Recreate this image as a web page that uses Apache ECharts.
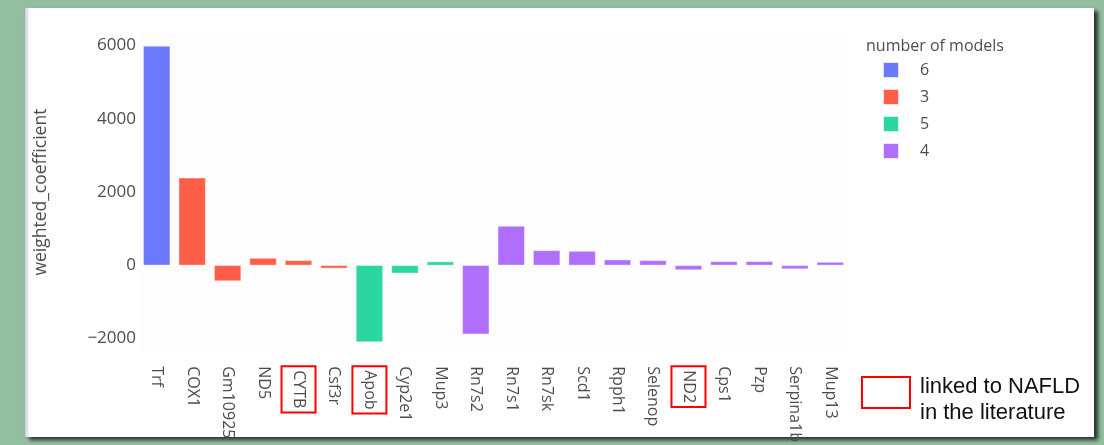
<!DOCTYPE html>
<html>
<head>
<meta charset="utf-8">
<script src="https://cdn.jsdelivr.net/npm/echarts@6/dist/echarts.min.js"></script>
<style>
html,body{margin:0;padding:0;background:#93bfa0;}
#chart{width:1104px;height:445px;}
</style>
</head>
<body>
<div id="chart"></div>
<script>
const categories = ['Trf','COX1','Gm10925','ND5','CYTB','Csf3r','Apob','Cyp2e1','Mup3','Rn7s2','Rn7s1','Rn7sk','Scd1','Rpph1','Selenop','ND2','Cps1','Pzp','Serpina1b','Mup13'];
const values = [5990, 2392, -428, 199, 136, -82, -2092, -218, 101, -1882, 1072, 409, 390, 155, 136, -128, 109, 109, -101, 90];
const modelCounts = [6, 3, 3, 3, 3, 3, 5, 5, 5, 4, 4, 4, 4, 4, 4, 4, 4, 4, 4, 4];
const groupOrder = ['6', '3', '5', '4'];
const groupColors = ['#6b79fd', '#fd5f48', '#2bd6a0', '#b06efd'];
const yTicks = [-2000, 0, 2000, 4000, 6000];
const linkedToNAFLD = ['CYTB', 'Apob', 'ND2'];

const FONT = '"Open Sans", "Noto Sans", sans-serif';
const TXT = '#4d4d4d';

const series = groupOrder.map((g, gi) => ({
  name: g,
  type: 'bar',
  stack: 'all',
  barWidth: '76%',
  itemStyle: { color: groupColors[gi], borderColor: 'rgba(255,255,255,0.8)', borderWidth: 0.5 },
  data: values.map((v, i) => String(modelCounts[i]) === g ? v : null)
}));

const chart = echarts.init(document.getElementById('chart'), null, { renderer: 'canvas' });
chart.setOption({
  backgroundColor: 'transparent',
  animation: false,
  graphic: [
    { type: 'rect', z: -20, shape: { x: 25, y: 8, width: 1069, height: 429 },
      style: { fill: '#ffffff', shadowColor: 'rgba(0,0,0,0.75)', shadowBlur: 4, shadowOffsetX: 4, shadowOffsetY: 3 } },
    { type: 'rect', z: -19, shape: { x: 25, y: 8, width: 5, height: 429 },
      style: { fill: new echarts.graphic.LinearGradient(0, 0, 1, 0, [{ offset: 0, color: '#cfcfcf' }, { offset: 1, color: '#ffffff' }]) } },
    { type: 'rect', z: 10, shape: { x: 862, y: 377, width: 48, height: 31 },
      style: { fill: 'none', stroke: '#ff0000', lineWidth: 2 } },
    { type: 'text', z: 10, x: 920, y: 374,
      style: { text: 'linked to NAFLD\nin the literature', fill: '#111111', font: '22px "Liberation Sans", Arial, sans-serif', lineHeight: 26, textVerticalAlign: 'top' } }
  ],
  title: {
    text: 'number of models', left: 861, top: 33,
    textStyle: { fontFamily: FONT, fontSize: 16, fontWeight: 'normal', color: TXT }
  },
  legend: {
    orient: 'vertical', left: 877, top: 56,
    icon: 'rect', itemWidth: 16, itemHeight: 16, itemGap: 9,
    data: groupOrder,
    textStyle: { fontFamily: FONT, fontSize: 16, color: TXT, padding: [0, 0, 0, 16] }
  },
  grid: {
    left: 139, right: 256, top: 31, bottom: 91,
    show: true, backgroundColor: '#fdfdfe', borderWidth: 0
  },
  xAxis: {
    type: 'category',
    data: categories,
    axisLine: { show: false },
    axisTick: { show: false },
    axisLabel: {
      rotate: -90, interval: 0, margin: 13,
      fontFamily: FONT, fontSize: 16, color: TXT,
      formatter: (v) => linkedToNAFLD.includes(v) ? '{hl|' + v + '}' : v,
      rich: {
        hl: { fontFamily: FONT, fontSize: 16, color: TXT, borderColor: '#ff0000', borderWidth: 2, padding: [9, 4, 9, 4], lineHeight: 18 }
      }
    }
  },
  yAxis: {
    type: 'value',
    min: -2400, max: 6400, interval: 400,
    name: 'weighted_coefficient', nameLocation: 'middle', nameRotate: 90, nameGap: 89,
    nameTextStyle: { fontFamily: FONT, fontSize: 17.5, color: TXT },
    axisLine: { show: false },
    axisTick: { show: false },
    splitLine: { show: false },
    axisLabel: {
      margin: 3, fontFamily: FONT, fontSize: 17, color: TXT,
      formatter: (v) => yTicks.includes(v) ? (v < 0 ? '\u2212' + Math.abs(v) : String(v)) : ''
    }
  },
  series: series
});
</script>
</body>
</html>
